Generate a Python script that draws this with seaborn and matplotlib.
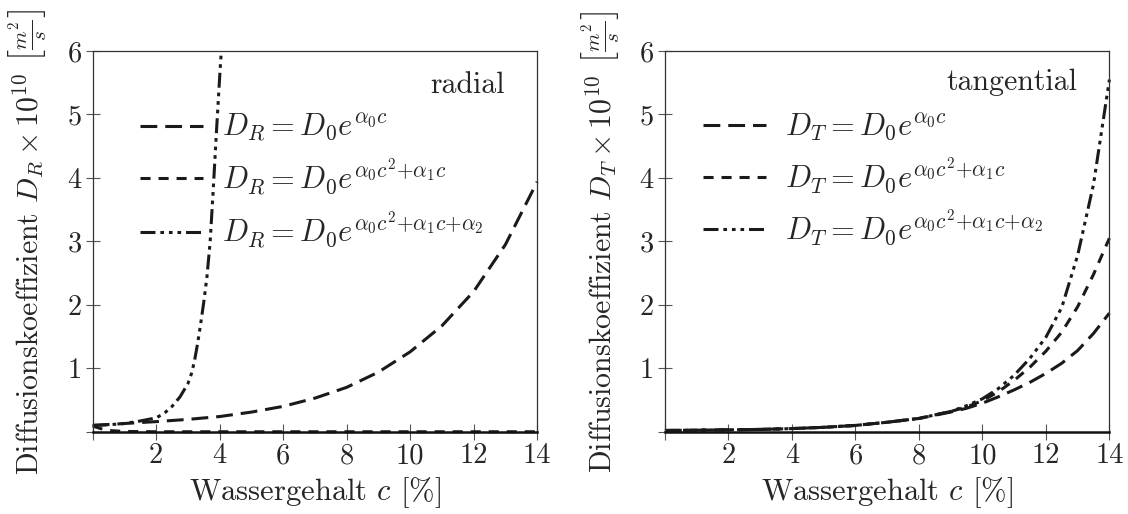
import numpy as np
import pandas as pd
import matplotlib
matplotlib.use("Agg")
import matplotlib.pyplot as plt
import seaborn as sns

# === radial values ===
c_rad_1 = [0, 1, 2, 3, 4, 5, 6, 7, 8, 9, 10, 11, 12, 13, 14]
d_rad_1 = [0.10, 0.13, 0.16, 0.195, 0.24, 0.31, 0.40, 0.53, 0.70, 0.94, 1.26, 1.67, 2.21, 2.95, 3.94]

c_rad_2 = [0, 0.25, 0.5, 1, 2, 4, 6, 8, 10, 12, 14]
d_rad_2 = [0.09, 0.05, 0.02, 0.005, 0, 0, 0, 0, 0, 0, 0]

c_rad_3 = [0, 0.5, 1, 1.5, 2, 2.25, 2.5, 2.75, 3.0, 3.1, 3.2, 3.3, 3.4, 3.5, 3.6, 3.7, 3.8, 3.9, 4.0, 4.05]
d_rad_3 = [0.10, 0.11, 0.13, 0.17, 0.22, 0.29, 0.40, 0.55, 0.76, 0.90, 1.10, 1.38, 1.70, 2.05, 2.45, 3.0, 3.85, 4.75, 5.6, 6.0]

# === tangential values ===
c_tan = [0, 1, 2, 3, 4, 5, 6, 7, 8, 9, 9.5, 10, 10.5, 11, 11.5, 12, 12.5, 13, 13.5, 14]
d_tan_1 = [0.02, 0.025, 0.03, 0.037, 0.05, 0.07, 0.10, 0.15, 0.21, 0.31, 0.37, 0.45, 0.55, 0.66, 0.78, 0.92, 1.08, 1.28, 1.55, 1.87]
d_tan_2 = [0.02, 0.025, 0.03, 0.037, 0.05, 0.07, 0.10, 0.15, 0.21, 0.32, 0.39, 0.49, 0.63, 0.81, 1.02, 1.27, 1.57, 1.97, 2.48, 3.05]
d_tan_3 = [0.02, 0.025, 0.03, 0.037, 0.05, 0.07, 0.10, 0.15, 0.21, 0.32, 0.41, 0.52, 0.68, 0.89, 1.16, 1.49, 1.96, 2.78, 3.90, 5.55]

x_ticks = [0, 2, 4, 6, 8, 10, 12, 14]
x_labels = ["", "2", "4", "6", "8", "10", "12", "14"]
y_ticks = [0, 1, 2, 3, 4, 5, 6]
y_labels = ["", "1", "2", "3", "4", "5", "6"]

models = ["m1", "m2", "m3"]
dashes = {
    "m1": (5.5, 2.6),
    "m2": (3.3, 2.6),
    "m3": (4.9, 1.6, 1.2, 1.6, 1.2, 1.6, 1.2, 1.6),
}

sns.set_style("ticks")
plt.rcParams["font.family"] = ["cmr10", "DejaVu Serif"]
plt.rcParams["mathtext.fontset"] = "cm"
plt.rcParams["axes.formatter.use_mathtext"] = True
plt.rcParams["axes.unicode_minus"] = False


def long_form(parts):
    frames = []
    for name, cs, ds in parts:
        frames.append(pd.DataFrame({"c": cs, "D": ds, "model": name}))
    return pd.concat(frames, ignore_index=True)


def draw_panel(ax, df, sub, tag, tag_xy, leg_x):
    sns.lineplot(data=df, x="c", y="D", style="model", style_order=models,
                 dashes=dashes, color="#1a1a1a", linewidth=2.2,
                 legend=False, ax=ax, sort=False, estimator=None)
    for ln in ax.lines:
        ln.set_clip_on(False)
        ln.set_dash_capstyle("butt")

    ax.set_xlim(0, 14)
    ax.set_ylim(0, 6)
    ax.set_xticks(x_ticks)
    ax.set_xticklabels(x_labels)
    ax.set_yticks(y_ticks)
    ax.set_yticklabels(y_labels)
    ax.tick_params(axis="x", direction="inout", length=12, width=0.8,
                   color="#555555", labelsize=20.5, pad=2)
    ax.tick_params(axis="y", direction="inout", length=10, width=0.8,
                   color="#555555", labelsize=20.5, pad=3)
    for side in ["top", "right", "left"]:
        ax.spines[side].set_linewidth(0.9)
        ax.spines[side].set_color("#333333")
    ax.spines["bottom"].set_linewidth(1.8)
    ax.spines["bottom"].set_color("#111111")

    ax.set_xlabel(r"Wassergehalt $c$ [%]", fontsize=22)
    ax.xaxis.set_label_coords(0.5, -0.115)
    ax.set_ylabel(r"Diffusionskoeffizient $D_%s\times10^{10}$ $\left[\frac{m^2}{s}\right]$" % sub,
                  fontsize=21.5)
    ax.yaxis.set_label_coords(-0.1, 0.5)

    ax.text(tag_xy[0], tag_xy[1], tag, transform=ax.transAxes, ha="right",
            va="center", fontsize=21.5)

    labels = [
        r"$D_%s = D_0e^{\alpha_0 c}$" % sub,
        r"$D_%s = D_0e^{\alpha_0 c^2{+}\alpha_1 c}$" % sub,
        r"$D_%s = D_0e^{\alpha_0 c^2{+}\alpha_1 c{+}\alpha_2}$" % sub,
    ]
    ax.legend(ax.lines[:3], labels, loc="upper left", bbox_to_anchor=(leg_x, 0.84),
              frameon=False, fontsize=22, handlelength=2.06, handletextpad=0.62,
              labelspacing=0.4, borderpad=0, borderaxespad=0)


fig = plt.figure(figsize=(11.28, 5.14), dpi=100)
ax1 = fig.add_axes([0.0822, 0.160, 0.394, 0.7407])
ax2 = fig.add_axes([0.5895, 0.160, 0.394, 0.7407])

df_rad = long_form([("m1", c_rad_1, d_rad_1), ("m2", c_rad_2, d_rad_2), ("m3", c_rad_3, d_rad_3)])
df_tan = long_form([("m1", c_tan, d_tan_1), ("m2", c_tan, d_tan_2), ("m3", c_tan, d_tan_3)])

draw_panel(ax1, df_rad, "R", "radial", (0.928, 0.911), 0.106)
draw_panel(ax2, df_tan, "T", "tangential", (0.927, 0.918), 0.086)

fig.savefig("out.png", dpi=100, facecolor="white")
